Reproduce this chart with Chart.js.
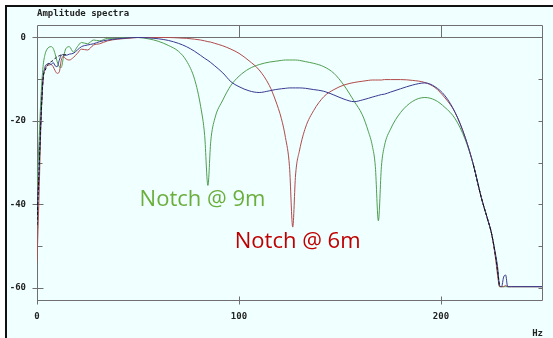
<!DOCTYPE html>
<html>
<head>
<meta charset="utf-8">
<script src="https://cdn.jsdelivr.net/npm/chart.js@4/dist/chart.umd.min.js"></script>
<style>
  body { margin: 0; background: #fff; }
  canvas { display: block; }
</style>
</head>
<body>
<canvas id="spectra" width="553" height="338"></canvas>
<script>
// frequency grid (Hz), shared by all series
const freqs = [
  0, 1, 2, 3, 4, 5, 6, 7, 8, 9,
  10, 11, 12, 13, 14, 15, 16, 18, 20, 22,
  25, 28, 31, 35, 40, 45, 50, 55, 60, 65,
  70, 74, 78, 81, 83, 84.6, 86, 88, 92, 96,
  100, 105, 110, 115, 118, 121, 123, 125, 126.6, 128,
  130, 133, 137, 142, 147, 152, 157, 161, 164, 166,
  167.5, 169, 170.5, 172, 175, 180, 186, 192, 197, 202,
  207, 212, 216, 220, 223, 225, 227, 228, 229, 230,
  231, 232, 233, 235, 240, 245, 250
];

// amplitude (dB), ghost at 9m
const green9m = [
  -36, -25, -14, -7, -4, -2.8, -2.3, -2.2, -2.6, -4,
  -5.8, -7, -7.2, -5, -3, -2.3, -2.2, -3.5, -2.2, -1.2,
  -1.5, -0.6, -0.8, -0.2, -0.2, 0, 0, -0.3, -0.9, -1.9,
  -3.3, -5.6, -10, -16.5, -23.5, -35.5, -25, -19.5, -15, -11.5,
  -9.3, -7.5, -6.5, -5.9, -5.7, -5.5, -5.4, -5.4, -5.4, -5.4,
  -5.5, -5.8, -6.2, -7, -8.6, -11.5, -15.3, -18.5, -22.5, -26,
  -31, -44, -31, -26, -22, -18, -15.3, -14.4, -15, -16.8,
  -19.5, -24.5, -30.5, -38.5, -43.5, -47, -52.5, -56, -59.8, -59.8,
  -59.8, -59.8, -59.8, -59.8, -59.8, -59.8, -59.8
];

// amplitude (dB), ghost at 6m
const red6m = [
  -54, -38, -20, -10, -7.5, -6.8, -6.6, -6.5, -7, -8,
  -8.6, -8.3, -5.5, -4.5, -5, -5.3, -5.4, -4.8, -3.8, -2.8,
  -3, -1.8, -1.5, -0.8, -0.4, -0.2, 0, 0, 0, 0,
  -0.1, -0.2, -0.4, -0.6, -0.8, -1, -1.1, -1.4, -2, -2.8,
  -3.8, -5.6, -7.8, -11.5, -15, -19.5, -24, -31, -45.5, -33,
  -27, -21.5, -17.5, -14.2, -12.5, -11.4, -10.8, -10.5, -10.3, -10.2,
  -10.2, -10.2, -10.2, -10.1, -10.1, -10.1, -10.3, -10.8, -12, -14.5,
  -18, -24, -30.5, -38.5, -43.5, -47, -53, -57, -59.8, -59.8,
  -59.8, -59.5, -59.8, -59.8, -59.8, -59.8, -59.8
];

// amplitude (dB), blue trace
const blueTrace = [
  -43, -32, -19, -10, -7, -6.4, -6.2, -6.5, -6, -6.8,
  -7, -5.5, -4.3, -4.1, -4.3, -4.2, -4, -3.8, -3, -2.2,
  -1.8, -1.5, -1, -0.6, -0.3, -0.1, 0, -0.1, -0.3, -0.7,
  -1.4, -2.2, -3.3, -4.3, -5, -5.5, -6, -6.8, -8.5, -10.6,
  -11.8, -12.8, -13.2, -12.8, -12.5, -12.3, -12.2, -12.1, -12.1, -12.1,
  -12.1, -12.2, -12.5, -12.9, -13.8, -14.8, -15.4, -15, -14.6, -14.3,
  -14.1, -13.9, -13.7, -13.6, -13.1, -12.3, -11.4, -10.9, -11.8, -14,
  -18, -24, -30.5, -38.5, -43.5, -47, -52, -55, -59.5, -59.8,
  -57.5, -57, -59.8, -59.8, -59.8, -59.8, -59.8
];

// amplitude (dB), black dashed trace (only visible at the ends)
const blackTrace = [
  -45, -32, -19, -10, -8, -6.8, -6.2, -5.8, -5.5, -5,
  -4.6, -4.4, -4.2, -4.2, -4.1, -4, null, null, null, null,
  null, null, null, null, null, null, null, null, null, null,
  null, null, null, null, null, null, null, null, null, null,
  null, null, null, null, null, null, null, null, null, null,
  null, null, null, null, null, null, null, null, null, null,
  null, null, null, null, null, null, null, null, null, null,
  null, null, -30.5, -38.5, -43.5, -47, -52.5, -56, -59.8, null,
  null, null, null, null, null, null, null
];

const xTicks = [0, 100, 200];
const yTicks = [0, -10, -20, -30, -40, -50, -60];

const monoFont = { family: 'DejaVu Sans Mono', size: 9, weight: 'bold' };
const frameColor = '#6f6f6f';

function pts(vals) {
  return freqs.map((f, i) => ({ x: f, y: vals[i] }));
}

function line(label, vals, color, dash) {
  return {
    label: label,
    data: pts(vals),
    borderColor: color,
    borderWidth: 1,
    borderDash: dash || [],
    pointRadius: 0,
    fill: false,
    cubicInterpolationMode: 'monotone',
    spanGaps: false
  };
}

const framePlugin = {
  id: 'frame',
  beforeDraw(chart) {
    const c = chart.ctx;
    const W = chart.width, H = chart.height;
    c.save();
    c.fillStyle = '#ffffff';
    c.fillRect(0, 0, W, H);
    c.fillStyle = '#f0ffff';
    c.fillRect(6, 6, W - 6, H - 6);
    c.fillStyle = '#111';
    c.fillRect(5, 5, W - 5, 2);
    c.fillRect(5, 5, 2, H - 5);
    c.restore();
  },
  beforeDatasetsDraw(chart) {
    const c = chart.ctx;
    const a = chart.chartArea;
    const xs = chart.scales.x, ys = chart.scales.y;
    const L = Math.round(a.left) + 0.5, R = Math.round(a.right) + 0.5;
    const T = Math.round(a.top) + 0.5, B = Math.round(a.bottom) + 0.5;
    const y0 = Math.round(ys.getPixelForValue(0)) + 0.5;
    c.save();
    c.strokeStyle = frameColor;
    c.lineWidth = 1;
    c.beginPath();
    c.rect(L, T, R - L, B - T);
    c.moveTo(L, y0); c.lineTo(R, y0);
    yTicks.forEach(v => {
      const y = Math.round(ys.getPixelForValue(v)) + 0.5;
      if (v % 20 === 0) { c.moveTo(L - 5, y); c.lineTo(L + 6, y); }
      else { c.moveTo(L, y); c.lineTo(L + 5, y); }
      c.moveTo(R - 4, y); c.lineTo(R, y);
    });
    xTicks.forEach(v => {
      const x = Math.round(xs.getPixelForValue(v)) + 0.5;
      c.moveTo(x, B - 4); c.lineTo(x, B + 4);
      if (v > 0) { c.moveTo(x, T); c.lineTo(x, y0); }
    });
    c.stroke();
    c.restore();
  },
  afterDraw(chart) {
    const c = chart.ctx;
    const xs = chart.scales.x, ys = chart.scales.y;
    c.save();
    c.fillStyle = '#222';
    c.font = 'bold 9px "DejaVu Sans Mono"';
    c.textBaseline = 'alphabetic';
    c.textAlign = 'left';
    c.fillText('Amplitude spectra', 37, 16);
    c.textAlign = 'right';
    c.fillText('Hz', 543, 336);

    c.textAlign = 'left';
    c.font = '22px "Open Sans"';
    c.fillStyle = '#6aae3c';
    c.fillText('Notch @ 9m', xs.getPixelForValue(50.8), ys.getPixelForValue(-40.5));
    c.fillStyle = '#c00000';
    c.fillText('Notch @ 6m', xs.getPixelForValue(97.9), ys.getPixelForValue(-50.5));
    c.restore();
  }
};

new Chart(document.getElementById('spectra'), {
  type: 'line',
  data: {
    datasets: [
      line('ref', blackTrace, '#111111', [3, 2]),
      line('blue', blueTrace, '#3a3a92'),
      line('6m', red6m, '#b24a4a'),
      line('9m', green9m, '#4f9f4f')
    ]
  },
  options: {
    responsive: false,
    animation: false,
    layout: { padding: { top: 25, right: 11, left: 0, bottom: 0 } },
    plugins: { legend: { display: false }, tooltip: { enabled: false } },
    scales: {
      x: {
        type: 'linear',
        min: 0,
        max: 250,
        afterBuildTicks: s => { s.ticks = xTicks.map(v => ({ value: v })); },
        afterFit: s => { s.height = 38; },
        grid: { display: false, drawTicks: false },
        border: { display: false },
        ticks: { color: '#222', font: monoFont, padding: 11, maxRotation: 0, autoSkip: false }
      },
      y: {
        type: 'linear',
        min: -63,
        max: 3,
        afterBuildTicks: s => { s.ticks = yTicks.map(v => ({ value: v })); },
        afterFit: s => { s.width = 37; },
        grid: { display: false, drawTicks: false },
        border: { display: false },
        ticks: {
          color: '#222',
          font: monoFont,
          padding: 11,
          autoSkip: false,
          callback: v => (v % 20 === 0 ? String(v) : '')
        }
      }
    }
  },
  plugins: [framePlugin]
});
</script>
</body>
</html>
